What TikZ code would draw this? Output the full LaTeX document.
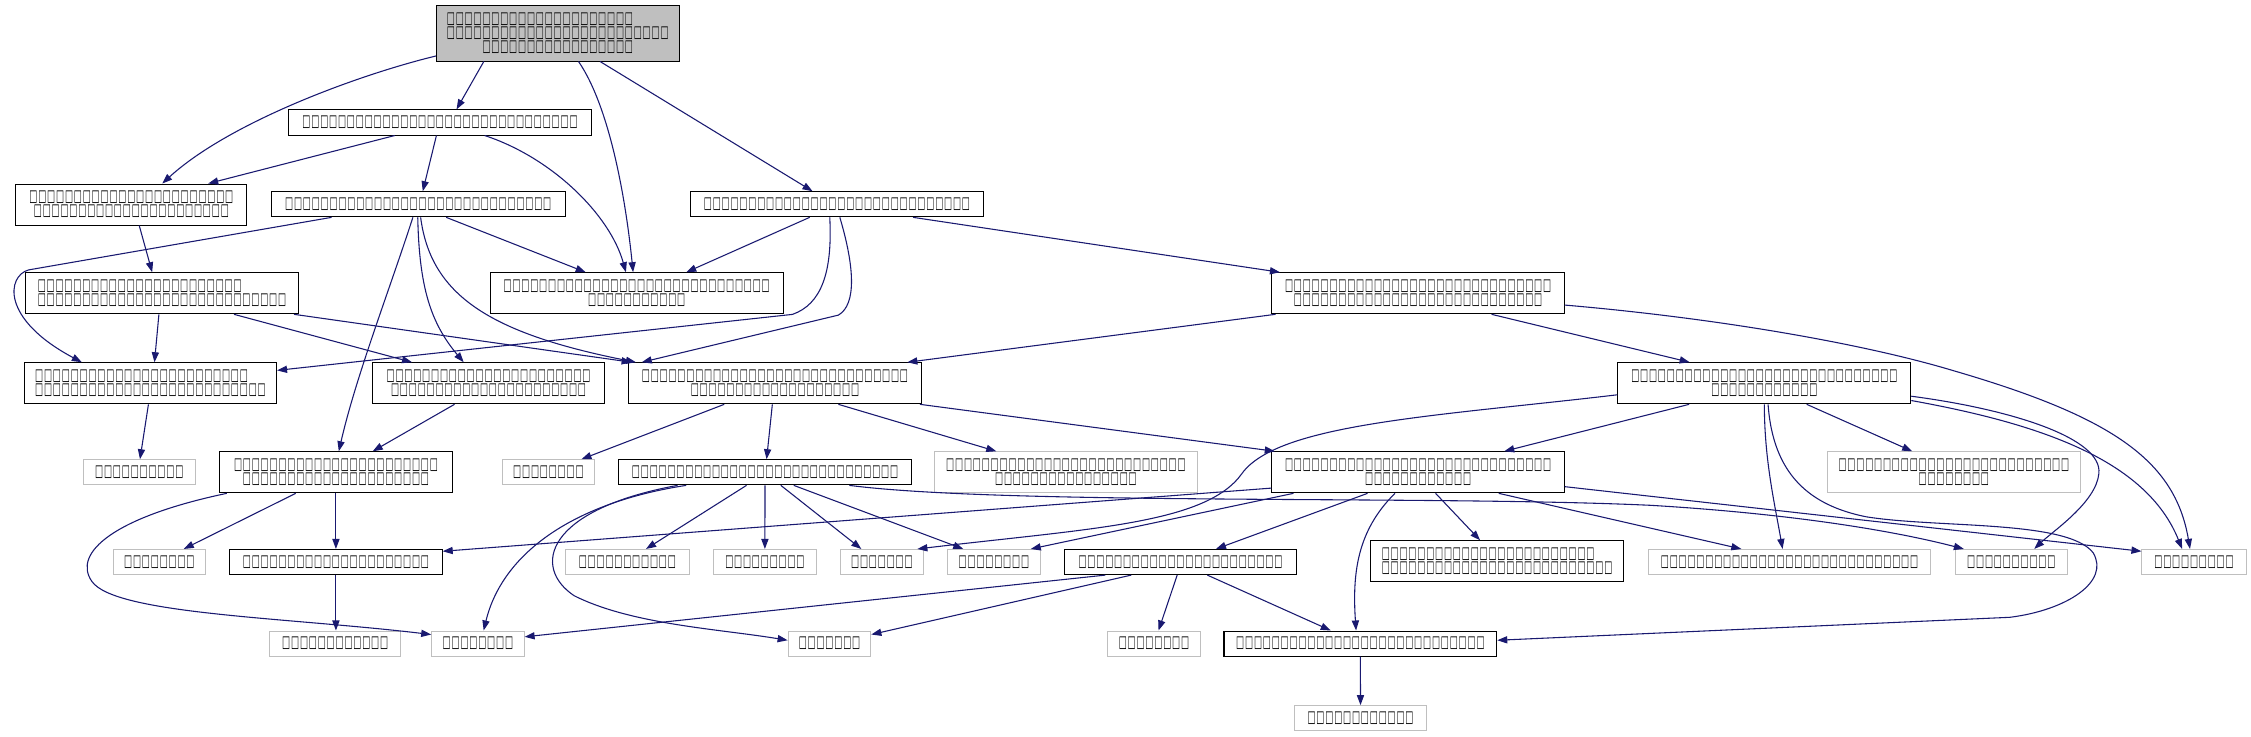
\documentclass[tikz,border=0pt]{standalone}
\usepackage{fontspec}
\usepackage{graphicx}
\usetikzlibrary{arrows.meta}
\newfontfamily\tofufont{DejaVu Sans}
\definecolor{edgeblue}{HTML}{191970}
\definecolor{extgray}{HTML}{BFBFBF}
\definecolor{rootgray}{HTML}{BFBFBF}
\newdimen\gw \gw=6.2pt
\newcount\tfc
\newcommand\tfglyph{\makebox[\gw]{\resizebox{5.6pt}{7.4pt}{\tofufont □}}}
\newcommand\T[1]{\tfc=#1\relax\loop\ifnum\tfc>0 \tfglyph\advance\tfc by -1 \repeat}
\newcommand\TL[2]{\makebox[#2\gw][l]{\T{#1}}}
\tikzset{
 box/.style={draw=black, line width=0.7pt, rectangle, inner sep=0pt, align=center, font=\fontsize{7}{9.6}\selectfont, text=black, minimum height=17.5pt},
 box2/.style={box, minimum height=28.6pt},
 ext/.style={box, draw=extgray},
 ext2/.style={box2, draw=extgray},
 e/.style={draw=edgeblue, line width=0.75pt, -{Triangle[length=7pt,width=5pt]}},
}
\begin{document}
\begin{tikzpicture}[x=1pt,y=-1pt]
\useasboundingbox (0,0) rectangle (1568,513);
% nodes
\node[box,fill=rootgray,minimum width=169pt,minimum height=38.5pt] (n0) at (388.5,23.25) {\TL{21}{25}\\\T{25}\\\T{17}};
\node[box,minimum width=211pt] (n1) at (306.5,85.3) {\T{31}};
\node[box2,minimum width=161pt] (n2) at (91.5,142.5) {\T{23}\\\T{22}};
\node[box,minimum width=204.6pt] (n3) at (291.3,142.3) {\T{30}};
\node[box,minimum width=204pt] (n4) at (583,142.3) {\T{30}};
\node[box2,minimum width=204pt] (n5) at (443.5,204.3) {\T{30}\\\T{11}};
\node[box2,minimum width=189.6pt] (n6) at (112.8,204.3) {\TL{23}{28}\\\T{28}};
\node[box2,minimum width=203.6pt] (n7) at (987.8,204.3) {\T{30}\\\T{28}};
\node[box2,minimum width=175.6pt] (n8) at (104.8,267) {\TL{24}{26}\\\T{26}};
\node[box2,minimum width=161.4pt] (n9) at (340.3,267) {\T{23}\\\T{22}};
\node[box2,minimum width=203.6pt] (n10) at (539.8,267) {\T{30}\\\T{19}};
\node[box2,minimum width=204pt] (n11) at (1229,267) {\T{30}\\\T{12}};
\node[ext,minimum width=78pt] (n12) at (97,329) {\T{10}};
\node[box2,minimum width=162pt] (n13) at (234,329) {\T{23}\\\T{21}};
\node[ext,minimum width=64pt] (n14) at (382,329) {\T{8}};
\node[box,minimum width=203.7pt] (n15) at (532.9,329) {\T{30}};
\node[ext2,minimum width=183pt] (n16) at (742.5,329) {\T{27}\\\T{16}};
\node[box2,minimum width=203.6pt] (n17) at (987.8,329) {\T{30}\\\T{12}};
\node[ext2,minimum width=176pt] (n18) at (1361,329) {\T{26}\\\T{8}};
\node[ext,minimum width=64pt] (n19) at (111,391.5) {\T{8}};
\node[box,minimum width=148pt] (n20) at (234,391.5) {\T{21}};
\node[ext,minimum width=86pt] (n21) at (437,391.5) {\T{11}};
\node[ext,minimum width=71.5pt] (n22) at (532.8,391.5) {\T{9}};
\node[ext,minimum width=57.5pt] (n23) at (614.3,391.5) {\T{7}};
\node[ext,minimum width=64.5pt] (n24) at (692.3,391.5) {\T{8}};
\node[box,minimum width=161.4pt] (n25) at (822.3,391.5) {\T{23}};
\node[box2,minimum width=176.5pt] (n26) at (1042.8,391) {\TL{24}{26}\\\T{26}};
\node[ext,minimum width=197pt] (n27) at (1246.5,391.5) {\T{29}};
\node[ext,minimum width=78pt] (n28) at (1401,391.5) {\T{10}};
\node[ext,minimum width=72.5pt] (n29) at (1528.3,391.5) {\T{9}};
\node[ext,minimum width=91pt] (n30) at (233.5,448.3) {\T{12}};
\node[ext,minimum width=64.3pt] (n31) at (332.9,448.3) {\T{8}};
\node[ext,minimum width=57.6pt] (n32) at (577.8,448.3) {\T{7}};
\node[ext,minimum width=64.4pt] (n33) at (803.8,448.3) {\T{8}};
\node[box,minimum width=190pt] (n34) at (947.6,448.3) {\T{28}};
\node[ext,minimum width=92pt] (n35) at (947.7,500.3) {\T{12}};
% edges
\draw[e] ([xshift=-51.5pt]n0.south) -- ([xshift=11.5pt]n1.north);
\draw[e] ([yshift=-15.75pt]n0.west) .. controls (250,52) and (160,85) .. ([xshift=21.5pt]n2.north);
\draw[e] ([xshift=14.5pt]n0.south) .. controls (425,75) and (436,140) .. ([xshift=-2.5pt]n5.north);
\draw[e] ([xshift=29.5pt]n0.south) -- ([xshift=-17pt]n4.north);
\draw[e] ([xshift=-31.5pt]n1.south) -- ([xshift=53.5pt]n2.north);
\draw[e] ([xshift=-2.5pt]n1.south) -- ([xshift=3.2pt]n3.north);
\draw[e] ([xshift=31.1pt]n1.south) .. controls (385,110) and (425,150) .. ([xshift=-7.5pt]n5.north);
\draw[e] ([xshift=5.5pt]n2.south) -- ([xshift=-6.8pt]n6.north);
\draw[e] ([xshift=-60.3pt]n3.south) -- (20,188) .. controls (5,192) and (0,222) .. ([xshift=-47.8pt]n8.north);
\draw[e] ([xshift=19.5pt]n3.south) -- ([xshift=-35.5pt]n5.north);
\draw[e] ([xshift=-3.7pt]n3.south) .. controls (272,200) and (248,262) .. ([xshift=2pt]n13.north);
\draw[e] ([xshift=-0.3pt]n3.south) .. controls (292,200) and (300,225) .. ([xshift=-17.3pt]n9.north);
\draw[e] ([xshift=1.7pt]n3.south) .. controls (300,205) and (340,232) .. ([xshift=-96.8pt]n10.north);
\draw[e] ([xshift=-19pt]n4.south) -- ([xshift=34.5pt]n5.north);
\draw[e] ([xshift=-5pt]n4.south) .. controls (580,190) and (572,212) .. (552,219) -- ([yshift=9pt]n8.east);
\draw[e] ([xshift=2pt]n4.south) .. controls (595,185) and (597,212) .. (584,219.5) -- ([xshift=-92.8pt]n10.north);
\draw[e] ([xshift=53pt]n4.south) -- ([xshift=-96.2pt]n7.north);
\draw[e] ([xshift=-2.1pt]n6.south) -- ([xshift=2.8pt]n8.north);
\draw[e] ([xshift=50.2pt]n6.south) -- ([xshift=-53.3pt]n9.north);
\draw[e] ([xshift=92pt]n6.south) -- ([xshift=-99.8pt]n10.north);
\draw[e] ([xshift=-99.3pt]n7.south) -- ([xshift=92.2pt]n10.north);
\draw[e] ([xshift=51.2pt]n7.south) -- ([xshift=-52pt]n11.north);
\draw[e] ([yshift=-8.2pt]n7.east) .. controls (1200,222) and (1300,240) .. (1360,258) .. controls (1470,290) and (1515,320) .. ([xshift=-2.8pt]n29.north);
\draw[e] ([xshift=-1.4pt]n8.south) -- ([xshift=0.5pt]n12.north);
\draw[e] ([xshift=-23.7pt]n9.south) -- ([xshift=25.6pt]n13.north);
\draw[e] ([xshift=-35.3pt]n10.south) -- ([xshift=23pt]n14.north);
\draw[e] ([xshift=-1.8pt]n10.south) -- ([xshift=1.1pt]n15.north);
\draw[e] ([xshift=44.2pt]n10.south) -- ([xshift=-48.5pt]n16.north);
\draw[e] ([xshift=101pt]n10.south) -- ([xshift=-99.8pt]n17.north);
\draw[e] ([xshift=-52.4pt]n11.south) -- ([xshift=60pt]n17.north);
\draw[e] ([yshift=-8pt]n11.west) .. controls (1000,290) and (890,295) .. (865,330) .. controls (840,365) and (760,368) .. ([xshift=24.7pt]n23.north);
\draw[e] ([xshift=29.5pt]n11.south) -- ([xshift=-29pt]n18.north);
\draw[e] (n11.south) .. controls (1229,320) and (1236,350) .. ([xshift=-4.8pt]n27.north);
\draw[e] ([xshift=2.6pt]n11.south) .. controls (1235,330) and (1260,352) .. (1300,360) .. controls (1350,368) and (1440,362) .. (1458,385) .. controls (1470,405) and (1440,425) .. (1400,430) -- ([yshift=2.3pt]n34.east);
\draw[e] ([yshift=-9pt]n11.east) .. controls (1400,285) and (1465,305) .. (1462,330) .. controls (1460,350) and (1430,370) .. ([xshift=16pt]n28.north);
\draw[e] ([yshift=-12pt]n11.east) .. controls (1420,295) and (1495,320) .. ([xshift=-8.3pt]n29.north);
\draw[e] ([xshift=-28pt]n13.south) -- ([xshift=17pt]n19.north);
\draw[e] (n13.south) -- (n20.north);
\draw[e] ([xshift=-76pt]n13.south) .. controls (80,360) and (50,385) .. (64,405) .. controls (80,428) and (200,430) .. ([yshift=6.3pt]n31.west);
\draw[e] ([xshift=-54.9pt]n15.south) .. controls (400,350) and (350,385) .. ([xshift=4pt]n31.north);
\draw[e] ([xshift=-60.9pt]n15.south) .. controls (380,355) and (370,395) .. (400,415) .. controls (440,435) and (500,438) .. ([yshift=2.3pt]n32.west);
\draw[e] ([xshift=-12.9pt]n15.south) -- ([xshift=13pt]n21.north);
\draw[e] (n15.south) -- (n22.north);
\draw[e] ([xshift=11pt]n15.south) -- ([xshift=-14.3pt]n23.north);
\draw[e] ([xshift=20pt]n15.south) -- ([xshift=-21.3pt]n24.north);
\draw[e] ([xshift=58.7pt]n15.south) .. controls (700,352) and (1000,345) .. (1150,352) .. controls (1250,358) and (1320,370) .. ([xshift=-33pt]n28.north);
\draw[e] ([yshift=-11pt]n17.west) -- ([yshift=7.5pt]n20.east);
\draw[e] ([xshift=-86.8pt]n17.south) -- ([xshift=25.7pt]n24.north);
\draw[e] ([xshift=-35.2pt]n17.south) -- ([xshift=24.7pt]n25.north);
\draw[e] ([xshift=-16.1pt]n17.south) .. controls (945,370) and (942,400) .. ([xshift=-3pt]n34.north);
\draw[e] ([xshift=12.2pt]n17.south) -- ([xshift=-11.8pt]n26.north);
\draw[e] ([xshift=56.2pt]n17.south) -- ([xshift=-33.5pt]n27.north);
\draw[e] ([yshift=-10pt]n17.east) -- ([yshift=7.5pt]n29.west);
\draw[e] (n20.south) -- ([xshift=0.5pt]n30.north);
\draw[e] ([xshift=-52.3pt]n25.south) -- ([yshift=4.7pt]n31.east);
\draw[e] ([xshift=-34.3pt]n25.south) -- ([yshift=6.3pt]n32.east);
\draw[e] ([xshift=-2.3pt]n25.south) -- ([xshift=3.2pt]n33.north);
\draw[e] ([xshift=18.7pt]n25.south) -- ([xshift=-20.6pt]n34.north);
\draw[e] (n34.south) -- (n35.north);
\end{tikzpicture}
\end{document}
